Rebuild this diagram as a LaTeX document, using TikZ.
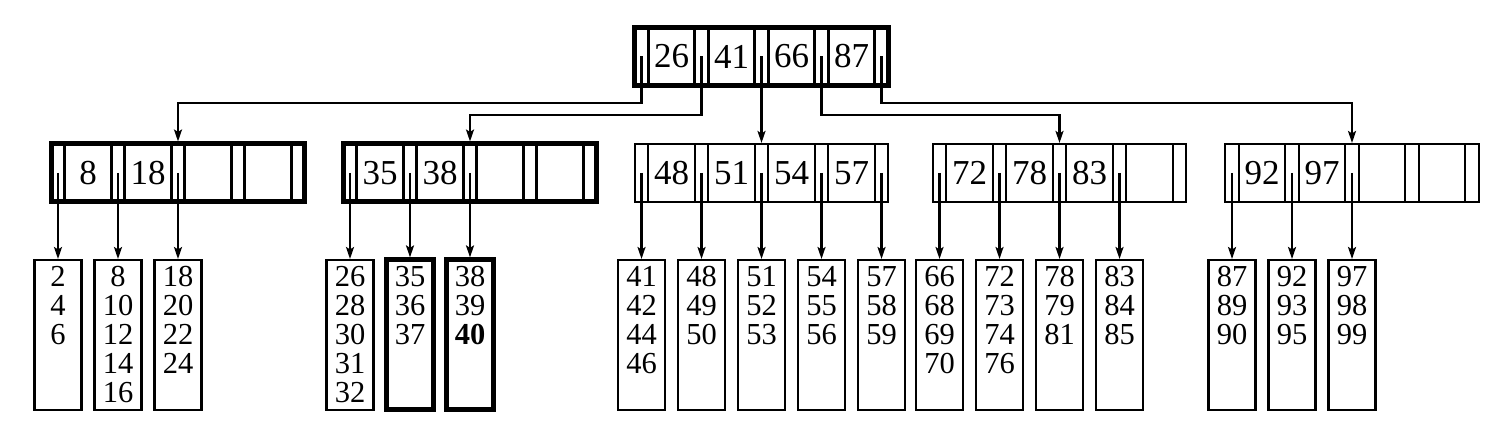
\documentclass[tikz,border=0pt]{standalone}
\usepackage{fontspec}
\setmainfont{Liberation Serif}
\usetikzlibrary{arrows.meta}
\newcommand{\keyfont}{\fontsize{35}{40}\selectfont}
\newcommand{\leaffont}{\fontsize{30.5}{29}\selectfont}
\tikzset{
    bbox/.style={draw,line width=2.1pt,inner sep=0pt,minimum width=253.5pt,minimum height=58pt},
    slot/.style={line width=2.1pt},
    heavy/.style={bbox/.append style={line width=5pt},slot/.append style={line width=3pt}},
    leaf/.style={draw,line width=2.1pt,inner sep=0pt,minimum width=47pt,minimum height=149.5pt,anchor=north},
    heavy leaf/.style={line width=5pt,yshift=1.6pt},
    keytext/.style={font=\keyfont,inner sep=0pt},
    leaftext/.style={font=\leaffont,align=center,inner sep=0pt,anchor=north,yshift=-7.4pt},
    ptr/.style={line width=2.1pt,-{Stealth[length=12pt,width=8pt,inset=2.5pt]}}
}
% key node: [style]{name}{center x}{center y}{keys}
\newcommand{\keynode}[5][]{%
    \begin{scope}[#1]
        \node [bbox] (#2) at (#3,#4) {};
        \foreach \i in {0,...,3} {
            \draw [slot] ({#3-126.75+13.5+60*\i},{#4-29}) -- ++(0,58);
            \draw [slot] ({#3-126.75+60+60*\i},{#4-29}) -- ++(0,58);
        }
        \foreach \i in {0,...,4} {
            \coordinate (#2p\i) at ({#3-120+60*\i},#4);
        }
        \foreach \k [count=\i from 0] in {#5} {
            \node [keytext] (#2k\i) at ({#3-90+60*\i},#4) {\k};
        }
    \end{scope}
}
% leaf: [style]{name}{pointer}{keys}
\newcommand{\bleaf}[4][]{%
    \node [leaf,#1] (#2) at (#3 |- lt) {};
    \node [leaftext] (#2t) at (#2 |- lt) {#4};
    \draw [ptr] (#3) -- (#2);
}

\begin{document}
\begin{tikzpicture}[x=1pt,y=-1pt]
    \useasboundingbox (0,0) rectangle (1506,446);
    \coordinate (h1) at (0,103);
    \coordinate (h2) at (0,115);
    \coordinate (lt) at (0,259);
    % root and inner nodes
    \keynode[heavy]{rt}{761.5}{56.5}{26,41,66,87}
    \keynode[heavy]{n1}{178}{173}{8,18}
    \keynode[heavy]{n2}{470}{173}{35,38}
    \keynode{n3}{761.5}{173}{48,51,54,57}
    \keynode{n4}{1059.5}{173}{72,78,83}
    \keynode{n5}{1352}{173}{92,97}
    \draw [ptr] (rtp0) -- (rtp0 |- h1) -| (n1);
    \draw [ptr] (rtp1) -- (rtp1 |- h2) -| (n2);
    \draw [ptr] (rtp2) -- (n3);
    \draw [ptr] (rtp3) -- (rtp3 |- h2) -| (n4);
    \draw [ptr] (rtp4) -- (rtp4 |- h1) -| (n5);
    % leaves
    \bleaf{a0}{n1p0}{2\\4\\6}
    \bleaf{a1}{n1p1}{8\\10\\12\\14\\16}
    \bleaf{a2}{n1p2}{18\\20\\22\\24}
    \bleaf{b0}{n2p0}{26\\28\\30\\31\\32}
    \bleaf[heavy leaf]{b1}{n2p1}{35\\36\\37}
    \bleaf[heavy leaf]{b2}{n2p2}{38\\39\\\textbf{40}}
    \bleaf{c0}{n3p0}{41\\42\\44\\46}
    \bleaf{c1}{n3p1}{48\\49\\50}
    \bleaf{c2}{n3p2}{51\\52\\53}
    \bleaf{c3}{n3p3}{54\\55\\56}
    \bleaf{c4}{n3p4}{57\\58\\59}
    \bleaf{d0}{n4p0}{66\\68\\69\\70}
    \bleaf{d1}{n4p1}{72\\73\\74\\76}
    \bleaf{d2}{n4p2}{78\\79\\81}
    \bleaf{d3}{n4p3}{83\\84\\85}
    \bleaf{e0}{n5p0}{87\\89\\90}
    \bleaf{e1}{n5p1}{92\\93\\95}
    \bleaf{e2}{n5p2}{97\\98\\99}
\end{tikzpicture}
\end{document}
